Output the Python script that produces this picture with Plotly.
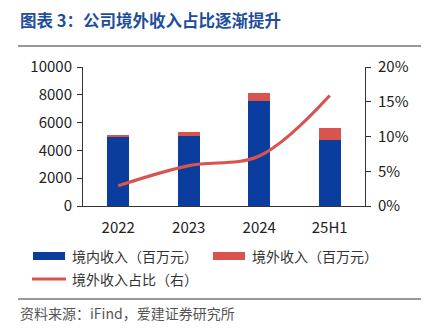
import plotly.graph_objects as go

categories = ["2022", "2023", "2024", "25H1"]
domestic = [5000, 5020, 7550, 4760]
overseas = [130, 340, 570, 880]
share_pct = [2.9, 5.8, 7.2, 15.9]

left_ticks = [0, 2000, 4000, 6000, 8000, 10000]
left_tick_text = [str(v) for v in left_ticks]
right_ticks = [0, 5, 10, 15, 20]
right_tick_text = [f"{v}%" for v in right_ticks]

BLUE = "#0b3d9e"
RED = "#d9534f"
FONT = "Noto Sans CJK SC"

W, H = 425, 330
L, R, T, B = 83, 365, 67, 206


def px(x):
    return (x - L) / (R - L)


def py(y):
    return (B - y) / (B - T)


fig = go.Figure()
fig.add_trace(go.Bar(x=categories, y=domestic, marker=dict(color=BLUE, line=dict(width=0)),
                     width=0.31, showlegend=False, name="境内收入（百万元）"))
fig.add_trace(go.Bar(x=categories, y=overseas, marker=dict(color=RED, line=dict(width=0)),
                     width=0.31, showlegend=False, name="境外收入（百万元）"))
fig.add_trace(go.Scatter(x=categories, y=share_pct, mode="lines", yaxis="y2",
                         line=dict(color=RED, width=3.2, shape="spline", smoothing=1.0),
                         showlegend=False, name="境外收入占比（右）"))

axis_common = dict(showgrid=False, zeroline=False, showline=True, linecolor="#333333",
                   linewidth=1, ticks="outside", ticklen=5, tickcolor="#333333",
                   tickfont=dict(family=FONT, size=15, color="#222222"))

fig.update_layout(
    width=W, height=H,
    margin=dict(l=L, r=W - R, t=T, b=H - B, pad=0),
    paper_bgcolor="white", plot_bgcolor="white",
    barmode="stack",
    xaxis=dict(showgrid=False, zeroline=False, showline=True, linecolor="#333333", linewidth=1,
               ticks="", ticklabelstandoff=8,
               tickfont=dict(family=FONT, size=15, color="#222222")),
    yaxis=dict(range=[0, 10000], tickvals=left_ticks, ticktext=left_tick_text,
               ticklabelstandoff=2, **axis_common),
    yaxis2=dict(range=[0, 20], tickvals=right_ticks, ticktext=right_tick_text,
                overlaying="y", side="right", ticklabelstandoff=4, **axis_common),
    font=dict(family=FONT),
)

shapes = [
    dict(type="line", xref="paper", yref="paper", x0=px(18), x1=px(421), y0=py(46), y1=py(46),
         line=dict(color="#333333", width=1.2)),
    dict(type="line", xref="paper", yref="paper", x0=px(18), x1=px(421), y0=py(299), y1=py(299),
         line=dict(color="#333333", width=1)),
    dict(type="rect", xref="paper", yref="paper", x0=px(33), x1=px(65), y0=py(260), y1=py(252),
         fillcolor=BLUE, line=dict(width=0)),
    dict(type="rect", xref="paper", yref="paper", x0=px(213), x1=px(245), y0=py(260), y1=py(252),
         fillcolor=RED, line=dict(width=0)),
    dict(type="line", xref="paper", yref="paper", x0=px(32), x1=px(66), y0=py(279), y1=py(279),
         line=dict(color=RED, width=3)),
]
fig.update_layout(shapes=shapes)

ann = [
    dict(text="<b>图表 3：公司境外收入占比逐渐提升</b>", x=px(18), y=py(20), size=16.5, color="#1f4e9a"),
    dict(text="境内收入（百万元）", x=px(70), y=py(256), size=14, color="#333333"),
    dict(text="境外收入（百万元）", x=px(250), y=py(256), size=14, color="#333333"),
    dict(text="境外收入占比（右）", x=px(70), y=py(279), size=14, color="#333333"),
    dict(text="资料来源：iFind，爱建证券研究所", x=px(18), y=py(313), size=14, color="#555555"),
]
for a in ann:
    fig.add_annotation(text=a["text"], xref="paper", yref="paper", x=a["x"], y=a["y"],
                       xanchor="left", yanchor="middle", showarrow=False,
                       font=dict(family=FONT, size=a["size"], color=a["color"]))

fig.write_html("out.html")
